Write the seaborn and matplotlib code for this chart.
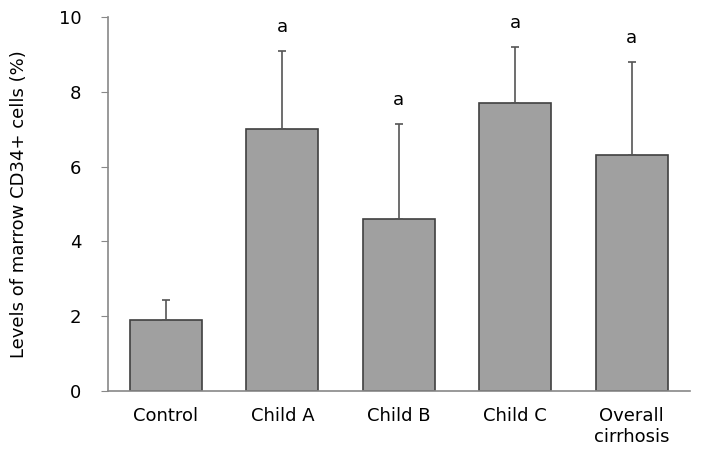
import pandas as pd
import matplotlib.pyplot as plt
import seaborn as sns

groups = ["Control", "Child A", "Child B", "Child C", "Overall\ncirrhosis"]
means = [1.9, 7.0, 4.6, 7.7, 6.3]
sd = [0.52, 2.1, 2.55, 1.5, 2.5]
marks = ["", "a", "a", "a", "a"]

df = pd.DataFrame({"group": groups, "level": means})

sns.set_style("white")
plt.rcParams['font.family'] = ['DejaVu Sans']
plt.rcParams['text.color'] = 'black'
plt.rcParams['axes.labelcolor'] = 'black'
plt.rcParams['xtick.color'] = 'black'
plt.rcParams['ytick.color'] = 'black'

fig = plt.figure(figsize=(7.09, 4.72), dpi=100)
ax = fig.add_axes([0.152, 0.172, 0.821, 0.792])

sns.barplot(data=df, x="group", y="level", color="#a0a0a0", saturation=1,
            width=0.62, edgecolor="#404040", linewidth=1.2, ax=ax)

# upward-only error bars
ax.errorbar(range(len(groups)), means, yerr=[[0] * len(sd), sd], fmt="none",
            ecolor="#555555", elinewidth=1.2, capsize=3, capthick=1.2)

for i, (m, s, t) in enumerate(zip(means, sd, marks)):
    if t:
        ax.text(i, m + s + 0.4, t, ha="center", va="bottom", fontsize=13)

ax.set_ylim(0, 10)
ax.set_xlim(-0.5, 4.5)
ax.set_yticks([0, 2, 4, 6, 8, 10])
ax.set_xlabel("")
ax.set_ylabel("Levels of marrow CD34+ cells (%)", fontsize=13, labelpad=22)
ax.tick_params(axis="y", left=True, length=5, color="#888888", labelsize=13, pad=14)
ax.tick_params(axis="x", bottom=False, labelsize=13, pad=8)

for side in ["top", "right"]:
    ax.spines[side].set_visible(False)
for side in ["left", "bottom"]:
    ax.spines[side].set_color("#888888")
    ax.spines[side].set_linewidth(1.2)

fig.savefig("out.png", dpi=100)
